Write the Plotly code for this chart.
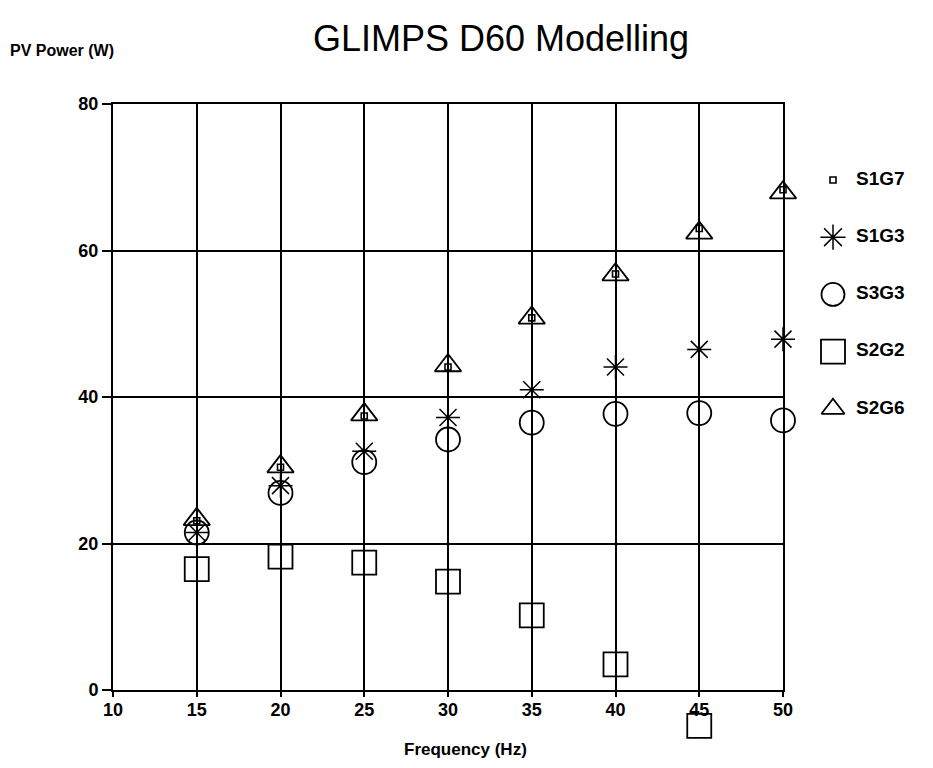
import plotly.graph_objects as go

# Frequency (Hz) at which each configuration was modelled
frequency = [15, 20, 25, 30, 35, 40, 45, 50]

# PV power (W) per configuration
s1g7 = [23.1, 30.4, 37.4, 44.1, 50.8, 56.8, 63.0, 68.3]
s1g3 = [21.5, 27.9, 32.6, 37.2, 41.0, 44.1, 46.5, 47.9]
s3g3 = [21.5, 26.9, 31.1, 34.2, 36.5, 37.7, 37.8, 36.8]
s2g2 = [16.5, 18.2, 17.4, 14.8, 10.2, 3.5, -4.9, None]
s2g6 = [23.3, 30.5, 37.6, 44.3, 50.8, 56.7, 62.4, 67.9]

series_names = ["S1G7", "S1G3", "S3G3", "S2G2", "S2G6"]
series_values = [s1g7, s1g3, s3g3, s2g2, s2g6]

x_ticks = [10, 15, 20, 25, 30, 35, 40, 45, 50]
y_ticks = [0, 20, 40, 60, 80]
X_MIN, X_MAX = 10, 50
Y_MIN, Y_MAX = 0, 80

# marker styling per series
symbols = ["square-open", "asterisk-open", "circle-open", "square-open", "triangle-up-open"]
sizes = [6, 20, 24, 24, 23]
legend_sizes = [6, 21, 23, 24, 20]
line_w = [1.6, 1.5, 1.8, 1.8, 1.8]

FONT = "Liberation Sans, Arial, Helvetica, sans-serif"
W, H = 933, 768
L, R_PLOT, T, B = 113, 783, 104, 690   # grid box in pixels

paper_w = W - L
paper_h = H - T
x_dom_end = (R_PLOT - L) / paper_w
y_dom_start = (H - B) / paper_h

# marks use the grid's scale on hidden axes that reach below the x axis,
# so a value under zero is still drawn
px_per_unit = (B - T) / (Y_MAX - Y_MIN)
y_mark_min = Y_MIN - (H - B) / px_per_unit


def py(pixel_y):
    """pixel row -> paper fraction"""
    return (H - pixel_y) / paper_h


fig = go.Figure()

# empty trace so the grid subplot is created
fig.add_trace(go.Scatter(x=[], y=[], xaxis="x", yaxis="y", showlegend=False))

for name, vals, sym, sz, lw in zip(series_names, series_values, symbols, sizes, line_w):
    fig.add_trace(go.Scatter(
        x=frequency, y=vals, mode="markers", name=name, xaxis="x4", yaxis="y3",
        marker=dict(symbol=sym, size=sz, color="black",
                    line=dict(color="black", width=lw)),
        cliponaxis=False, showlegend=False,
    ))

# key drawn on its own pixel-scaled axes to the right of the grid
key_x_marker = 833
key_x_text = 856
key_y0, key_dy = 180, 57.2
key_y = [key_y0 + i * key_dy for i in range(len(series_names))]
for name, sym, sz, lw, ky in zip(series_names, symbols, legend_sizes, line_w, key_y):
    fig.add_trace(go.Scatter(
        x=[key_x_marker], y=[ky], mode="markers", xaxis="x2", yaxis="y2",
        marker=dict(symbol=sym, size=sz, color="black",
                    line=dict(color="black", width=lw)),
        cliponaxis=False, showlegend=False, hoverinfo="skip",
    ))
fig.add_trace(go.Scatter(
    x=[key_x_text] * len(series_names), y=key_y, mode="text",
    text=series_names, textposition="middle right",
    textfont=dict(family=FONT, size=19, color="black", weight="bold"),
    xaxis="x2", yaxis="y2", cliponaxis=False, showlegend=False, hoverinfo="skip",
))

tickfont = dict(family=FONT, size=18, color="black", weight="bold")
hidden = dict(visible=False, fixedrange=True, automargin=False)

fig.update_layout(
    width=W, height=H,
    margin=dict(l=L, r=0, t=T, b=0, pad=0, autoexpand=False),
    paper_bgcolor="white", plot_bgcolor="rgba(0,0,0,0)",
    font=dict(family=FONT, color="black"),
    title=dict(text="GLIMPS D60 Modelling", xref="container", yref="container",
               x=501 / W, y=1 - 38 / H, xanchor="center", yanchor="middle",
               font=dict(family=FONT, size=36, color="black"),
               automargin=False),
    xaxis=dict(domain=[0, x_dom_end], range=[X_MIN, X_MAX], tickvals=x_ticks,
               showgrid=True, gridcolor="black", gridwidth=1.5,
               showline=True, linecolor="black", linewidth=2, mirror=True,
               ticks="outside", ticklen=5, tickcolor="black", tickwidth=1.5,
               ticklabelstandoff=-3,
               zeroline=False, anchor="y", tickfont=tickfont, automargin=False),
    yaxis=dict(domain=[y_dom_start, 1], range=[Y_MIN, Y_MAX], tickvals=y_ticks,
               showgrid=True, gridcolor="black", gridwidth=1.5,
               showline=True, linecolor="black", linewidth=2, mirror=True,
               ticks="outside", ticklen=9, tickcolor="black", tickwidth=1.5,
               zeroline=False, anchor="x", tickfont=tickfont, automargin=False),
    xaxis4=dict(domain=[0, x_dom_end], range=[X_MIN, X_MAX], anchor="y3", **hidden),
    yaxis3=dict(domain=[0, 1], range=[y_mark_min, Y_MAX], anchor="x4", **hidden),
    xaxis2=dict(domain=[x_dom_end, 1], range=[R_PLOT, W], anchor="y2", **hidden),
    yaxis2=dict(domain=[0, 1], range=[H, T], anchor="x2", **hidden),
    annotations=[
        dict(text="<b>PV Power (W)</b>", xref="paper", yref="paper",
             x=(8 - L) / paper_w, y=py(50), xanchor="left", yanchor="middle",
             showarrow=False, font=dict(family=FONT, size=16, color="black")),
        dict(text="<b>Frequency (Hz)</b>", xref="paper", yref="paper",
             x=(465 - L) / paper_w, y=py(749), xanchor="center", yanchor="middle",
             showarrow=False, font=dict(family=FONT, size=17, color="black")),
    ],
)

fig.write_html("out.html")
